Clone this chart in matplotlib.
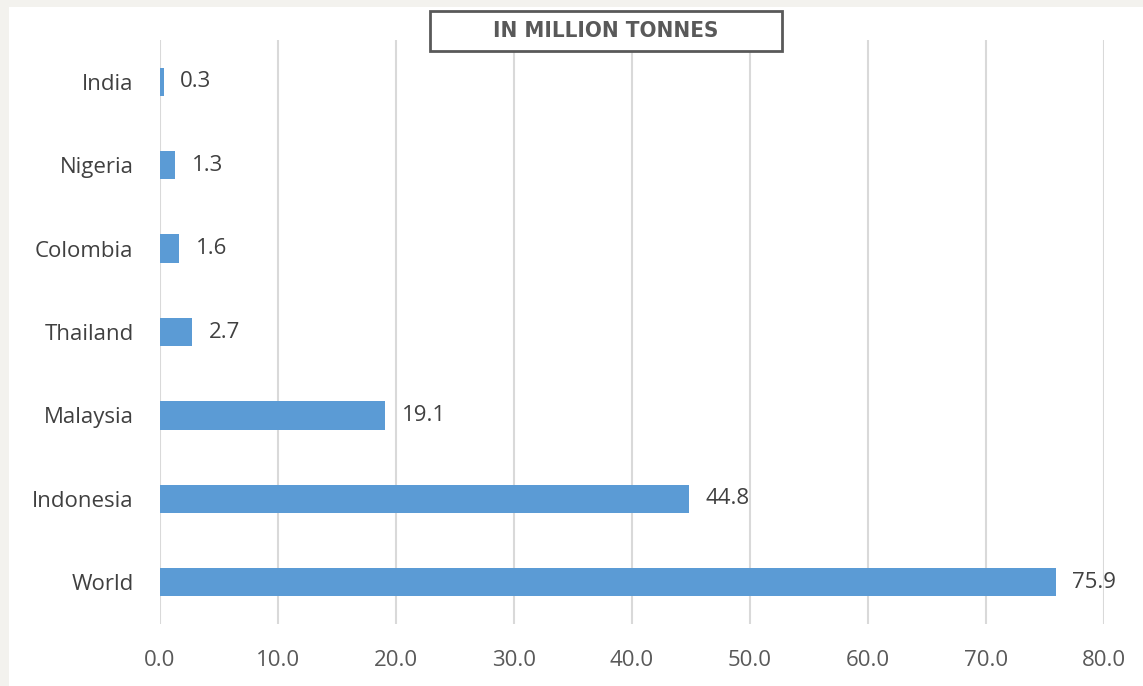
import matplotlib.pyplot as plt
from matplotlib.patches import Rectangle

# Data
countries = ["India", "Nigeria", "Colombia", "Thailand", "Malaysia", "Indonesia", "World"]
values = [0.3, 1.3, 1.6, 2.7, 19.1, 44.8, 75.9]
xticks = [0, 10, 20, 30, 40, 50, 60, 70, 80]

W, H = 1143, 686
fig = plt.figure(figsize=(W / 100, H / 100), dpi=100)
fig.patch.set_facecolor("#f3f2ee")

# white panel behind everything
fig.patches.append(Rectangle((9 / W, 0), 1 - 9 / W, 1 - 7 / H, transform=fig.transFigure,
                             facecolor="white", edgecolor="none", zorder=-10))

ax = fig.add_axes([160 / W, 1 - 624 / H, (1104 - 160) / W, (624 - 40) / H])
ax.set_facecolor("white")

ax.barh(range(len(countries)), values, height=0.34, color="#5b9bd5", zorder=3)
for i, v in enumerate(values):
    ax.annotate(f"{v:.1f}", (v, i), xytext=(12, 0), textcoords="offset points",
                va="center", ha="left", fontsize=16, color="#404040", family="Open Sans")

ax.set_yticks(range(len(countries)))
ax.set_yticklabels(countries, fontsize=16, color="#404040", family="Open Sans")
ax.set_ylim(6.5, -0.5)
ax.set_xlim(0, 80)
ax.set_xticks(xticks)
ax.set_xticklabels([f"{t:.1f}" for t in xticks], fontsize=16, color="#595959", family="Open Sans")
ax.grid(axis="x", color="#d9d9d9", linewidth=1.5, zorder=0)
for s in ax.spines.values():
    s.set_visible(False)
ax.tick_params(length=0)
ax.tick_params(axis="y", pad=19)
ax.tick_params(axis="x", pad=19)

# boxed title
fig.patches.append(Rectangle((430 / W, 1 - 51 / H), (782 - 430) / W, 40 / H,
                             transform=fig.transFigure, facecolor="white",
                             edgecolor="#595959", linewidth=2, zorder=1))
fig.text((430 + 782) / 2 / W, 1 - 31 / H, "IN MILLION TONNES", ha="center", va="center",
         fontsize=16, fontweight="bold", fontstretch="condensed", family="DejaVu Sans",
         color="#595959", zorder=5)

plt.savefig("out.png", dpi=100, facecolor=fig.get_facecolor())
plt.close()
